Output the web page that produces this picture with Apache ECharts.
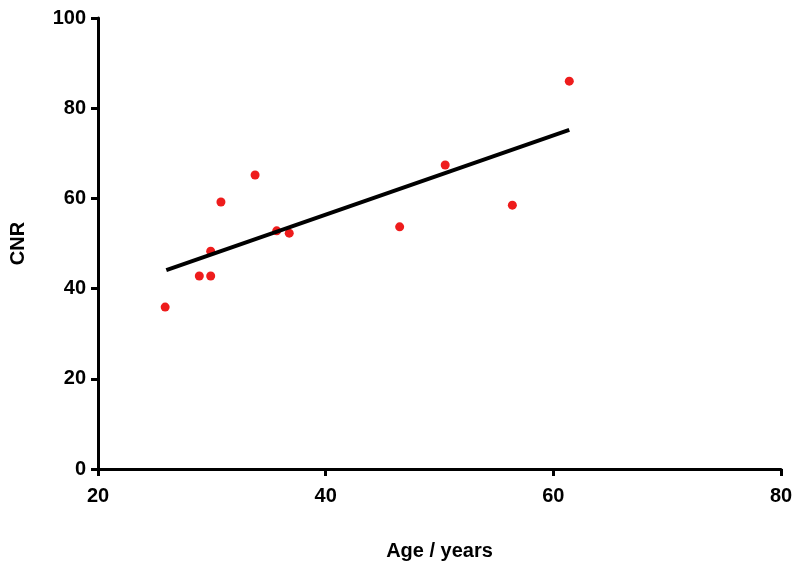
<!DOCTYPE html>
<html><head><meta charset="utf-8">
<script src="https://cdn.jsdelivr.net/npm/echarts@6/dist/echarts.min.js"></script>
<style>html,body{margin:0;padding:0;background:#fff}#c{width:800px;height:571px}</style>
</head><body><div id="c"></div>
<script>
const ages = [25.9, 28.9, 29.9, 29.9, 30.8, 33.8, 35.7, 36.8, 46.5, 50.5, 56.4, 61.4];
const cnr = [35.9, 42.8, 42.8, 48.3, 59.2, 65.2, 52.8, 52.3, 53.7, 67.4, 58.5, 86.0];
const fitX = [26.0, 61.4];
const fitY = [44.1, 75.2];
const lbl = {color:'#000', fontWeight:'bold', fontSize:20, fontFamily:'Liberation Sans, Arial'};
const chart = echarts.init(document.getElementById('c'));
chart.setOption({
  animation:false,
  grid:{left:94,right:19,top:18,bottom:102},
  xAxis:{type:'value',min:20,max:80,interval:20,
    name:'Age / years',nameLocation:'middle',nameGap:72,
    nameTextStyle:{...lbl,fontSize:20},
    axisLine:{lineStyle:{color:'#000',width:3}},
    axisTick:{length:7,lineStyle:{color:'#000',width:3}},
    axisLabel:{...lbl,margin:17},splitLine:{show:false}},
  yAxis:{type:'value',min:0,max:100,interval:20,
    name:'CNR',nameLocation:'middle',nameGap:70,
    nameTextStyle:{...lbl,fontSize:20},
    axisLine:{show:true,lineStyle:{color:'#000',width:3}},
    axisTick:{show:true,length:7,lineStyle:{color:'#000',width:3}},
    axisLabel:{...lbl,margin:12},splitLine:{show:false}},
  series:[
    {type:'line',data:fitX.map((x,i)=>[x,fitY[i]]),symbol:'none',
     lineStyle:{color:'#000',width:4}},
    {type:'scatter',data:ages.map((x,i)=>[x,cnr[i]]),symbolSize:9,
     itemStyle:{color:'#ee1c1c',opacity:1}}
  ]
});
</script></body></html>
